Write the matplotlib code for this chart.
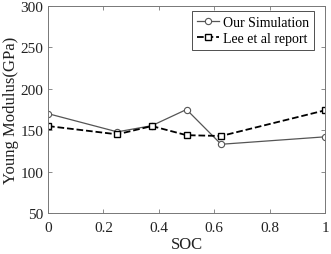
import numpy as np
import matplotlib.pyplot as plt

plt.rcParams['font.family'] = ['Liberation Serif', 'DejaVu Serif']

soc = [0, 0.25, 0.375, 0.5, 0.625, 1]
sim = [170, 148, 155.5, 175, 133, 142]
lee = [155, 145, 155, 144, 143, 174]

fig = plt.figure(figsize=(3.31, 2.55), dpi=100)
ax = fig.add_axes([48/331, 1-214/255, 277/331, 207/255])

ax.plot(soc, sim, '-o', color='#555555', lw=0.9, ms=4.5, mfc='white', mec='#555555', mew=0.8, label='Our Simulation')
ax.plot(soc, lee, '--s', color='black', lw=1.3, ms=4, mfc='white', mec='black', mew=1.0, label='Lee et al report')

ax.set_xlim(0, 1)
ax.set_ylim(50, 300)
ax.set_xticks([0, 0.2, 0.4, 0.6, 0.8, 1])
ax.set_xticklabels(['0', '0.2', '0.4', '0.6', '0.8', '1'])
ax.set_yticks([50, 100, 150, 200, 250, 300])
ax.tick_params(direction='in', top=True, right=True, labelsize=11, length=3, width=0.6,
               color='#777777', labelcolor='#222222')
ax.tick_params(axis='x', pad=6)
for s in ax.spines.values():
    s.set_linewidth(0.7)
    s.set_color('#777777')
ax.set_xlabel('SOC', fontsize=12, labelpad=1, color='#222222')
ax.set_ylabel('Young Modulus(GPa)', fontsize=12, labelpad=1, color='#222222')

leg = ax.legend(loc='upper right', bbox_to_anchor=(314/331, 1-12/255), bbox_transform=fig.transFigure,
                fontsize=10, fancybox=False, edgecolor='black',
                handlelength=1.6, handletextpad=0.3, borderpad=0.35, labelspacing=0.2,
                borderaxespad=0)
leg.get_frame().set_linewidth(0.6)

fig.savefig('out.png', dpi=100)
